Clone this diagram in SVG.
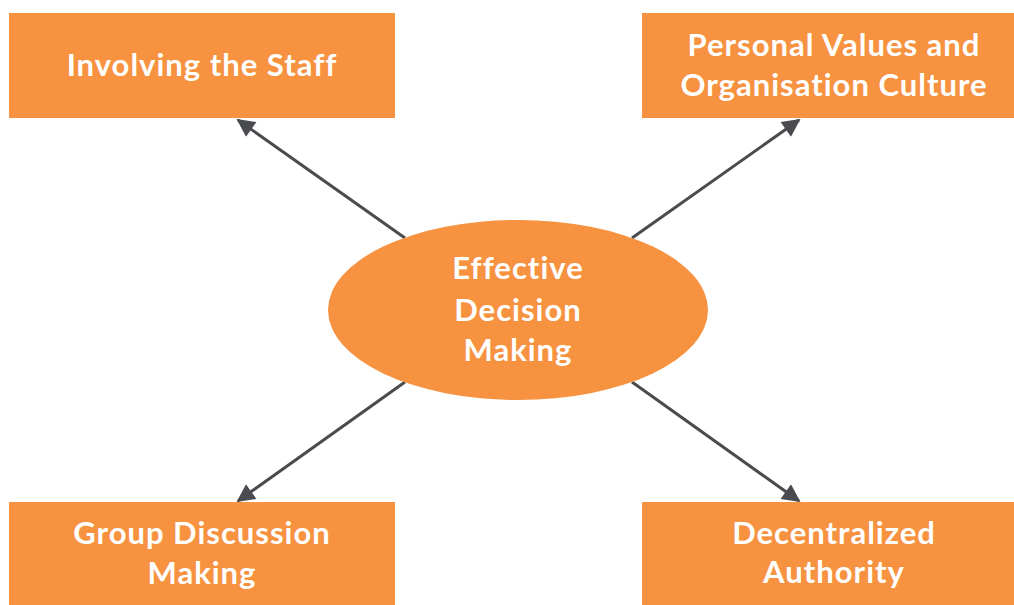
<svg xmlns="http://www.w3.org/2000/svg" width="1014" height="605" viewBox="0 0 1014 605">
<style>
.box{fill:#F69240;}
.lbl{fill:#fff;font-family:Lato,"Open Sans","Liberation Sans",sans-serif;font-weight:bold;font-size:31px;letter-spacing:1px;text-anchor:middle;}
.conn{stroke:#4A4B4F;stroke-width:3;fill:none;marker-end:url(#arr);}
</style>
<defs>
<marker id="arr" viewBox="0 0 10 10" refX="9" refY="5" markerWidth="7" markerHeight="6" orient="auto" markerUnits="strokeWidth">
<path d="M0,0 L10,5 L0,10 z" fill="#4A4B4F"/>
</marker>
</defs>
<rect width="1014" height="605" fill="#fff"/>
<g id="connectors">
<line class="conn" x1="405" y1="238" x2="238" y2="120"/>
<line class="conn" x1="632" y1="238" x2="799" y2="120"/>
<line class="conn" x1="405" y1="382" x2="238" y2="501"/>
<line class="conn" x1="632" y1="382" x2="799" y2="501"/>
</g>
<g id="center">
<ellipse class="box" cx="518" cy="310" rx="190" ry="90"/>
<text class="lbl" x="518" y="279">Effective</text>
<text class="lbl" x="518" y="321">Decision</text>
<text class="lbl" x="518" y="361">Making</text>
</g>
<g id="involving">
<rect class="box" x="9" y="13" width="386" height="105"/>
<text class="lbl" x="202" y="76">Involving the Staff</text>
</g>
<g id="personal">
<rect class="box" x="642" y="13" width="372" height="105"/>
<text class="lbl" x="834" y="56">Personal Values and</text>
<text class="lbl" x="834" y="96">Organisation Culture</text>
</g>
<g id="group">
<rect class="box" x="9" y="502" width="386" height="103"/>
<text class="lbl" x="202" y="544">Group Discussion</text>
<text class="lbl" x="202" y="584">Making</text>
</g>
<g id="decentralized">
<rect class="box" x="642" y="502" width="372" height="103"/>
<text class="lbl" x="834" y="544">Decentralized</text>
<text class="lbl" x="834" y="583">Authority</text>
</g>
</svg>
